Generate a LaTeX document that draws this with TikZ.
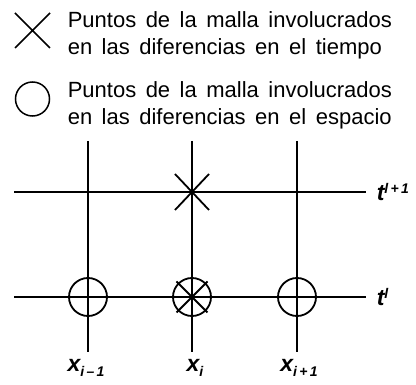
\documentclass[tikz,border=0pt]{standalone}
\usepackage{fontspec}
\setmainfont{Liberation Sans}
\newcommand{\legfont}{\fontsize{22}{24}\selectfont\spaceskip=9.5pt plus 2pt\relax}
\newcommand{\subi}[1]{\raisebox{-5pt}{\fontsize{14}{14}\selectfont #1}}
\newcommand{\supl}[1]{\raisebox{7pt}{\fontsize{14}{14}\selectfont #1}}
\begin{document}
\begin{tikzpicture}[x=1pt,y=-1pt,line width=1.6pt,
  legtext/.style={anchor=base west,inner sep=0pt,font=\legfont},
  axlbl/.style={inner sep=0pt,font=\fontsize{23}{24}\selectfont\bfseries\itshape},
  ring/.style={draw,circle,minimum size=38pt,inner sep=0pt,line width=1.8pt}]
\useasboundingbox (0,0) rectangle (416,385);
% leyenda
\draw[line width=1.5pt] (15,13) -- (50,48) (15,48) -- (50,13);
\draw[line width=1.5pt] (32.5,99) circle (17);
\node[legtext] (l1) at (67,28) {Puntos de la malla involucrados};
\node[legtext] (l2) at (67,55) {en las diferencias en el tiempo};
\node[legtext] (l3) at (67,98) {Puntos de la malla involucrados};
\node[legtext] (l4) at (67,125) {en las diferencias en el espacio};
% malla
\foreach \n/\x/\d/\s in {a/88/-2/i\,\textendash\,1, b/192/3/i, c/297/2/i\,+\,1}{
  \coordinate (\n top) at (\x,141);
  \coordinate (\n bot) at (\x,352);
  \node[axlbl,anchor=base] (x\n) at (\x+\d,372) {x\subi{\s}};
  \draw (\n top) -- (\n bot);
}
\foreach \n/\y/\s in {up/192/l\,+\,1, dn/297/l}{
  \coordinate (\n left) at (14,\y);
  \coordinate (\n right) at (366,\y);
  \node[axlbl,anchor=base west] (t\n) at (376,\y+9) {t\supl{\s}};
  \draw (\n left) -- (\n right);
}
% puntos
\coordinate (pt) at (192,192);
\draw[line width=1.8pt] (pt) ++(-17,-18) -- ++(34,36) (pt) ++(-17,18) -- ++(34,-36);
\foreach \x in {88,192,297} \node[ring] (c\x) at (\x,297) {};
\draw[line width=1.8pt] (192,297) ++(-15.5,-15.5) -- ++(31,31) (192,297) ++(-15.5,15.5) -- ++(31,-31);
\end{tikzpicture}
\end{document}
